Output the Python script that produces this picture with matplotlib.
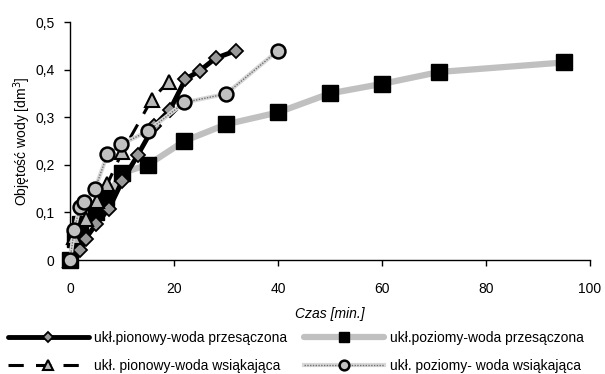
import matplotlib
matplotlib.use("Agg")
import matplotlib.pyplot as plt
from matplotlib.ticker import FuncFormatter

plt.rcParams['font.family'] = ['Liberation Sans', 'DejaVu Sans']
plt.rcParams['font.size'] = 10

# ukł. pionowy - woda przesączona
t_pion_prz = [0, 2, 3, 5, 7.5, 10, 13, 16.2, 19.2, 22.2, 25, 28, 32]
v_pion_prz = [0, 0.02, 0.045, 0.075, 0.108, 0.165, 0.22, 0.282, 0.315, 0.38, 0.398, 0.424, 0.44]

# ukł. poziomy - woda przesączona
t_poz_prz = [0, 1, 2, 5, 7, 10, 15, 22, 30, 40, 50, 60, 71, 95]
v_poz_prz = [0, 0.045, 0.075, 0.10, 0.13, 0.183, 0.20, 0.25, 0.285, 0.31, 0.35, 0.37, 0.395, 0.415]

# ukł. pionowy - woda wsiąkająca
t_pion_wsi = [0, 0.8, 3, 5.1, 7.2, 10, 15.7, 19]
v_pion_wsi = [0, 0.049, 0.087, 0.125, 0.16, 0.226, 0.337, 0.375]

# ukł. poziomy - woda wsiąkająca
t_poz_wsi = [0, 0.8, 1.9, 2.7, 4.8, 7.2, 9.9, 15, 22, 30, 40]
v_poz_wsi = [0, 0.0625, 0.112, 0.122, 0.149, 0.222, 0.243, 0.271, 0.331, 0.349, 0.44]

labels = ["ukł.pionowy-woda przesączona",
          "ukł.poziomy-woda przesączona",
          "ukł. pionowy-woda wsiąkająca",
          "ukł. poziomy- woda wsiąkająca"]

fig = plt.figure(figsize=(6.05, 3.74), dpi=100)
ax = fig.add_axes([70 / 605, 1 - 260 / 374, 520 / 605, 238 / 374])

l2, = ax.plot(t_poz_prz, v_poz_prz, color="#c0c0c0", lw=4.5, solid_capstyle="round",
              marker="s", ms=11, mfc="black", mec="black", clip_on=False, zorder=2)
l1, = ax.plot(t_pion_prz, v_pion_prz, color="black", lw=3.5, solid_capstyle="round",
              marker="D", ms=7, mfc="#999999", mec="black", mew=1.3, clip_on=False, zorder=3)
l3, = ax.plot(t_pion_wsi, v_pion_wsi, color="black", lw=2.2, ls=(0, (5, 4)),
              marker="^", ms=10, mfc="#b8b8b8", mec="black", mew=1.5, clip_on=False, zorder=4)
# hatched-looking thin line: light band with dark dots on top
l4a, = ax.plot(t_poz_wsi, v_poz_wsi, color="#d8d8d8", lw=3, clip_on=False, zorder=5)
l4b, = ax.plot(t_poz_wsi, v_poz_wsi, color="#707070", lw=1, ls=(0, (1, 1)),
               marker="o", ms=10, mfc="#c0c0c0", mec="black", mew=1.8, clip_on=False, zorder=5)

ax.set_xlim(0, 100)
ax.set_ylim(0, 0.5)
ax.set_xticks([0, 20, 40, 60, 80, 100])
ax.set_yticks([0, 0.1, 0.2, 0.3, 0.4, 0.5])
ax.yaxis.set_major_formatter(FuncFormatter(lambda v, p: "0" if v == 0 else f"{v:.1f}".replace(".", ",")))

for s in ["top", "right"]:
    ax.spines[s].set_visible(False)
for s in ["left", "bottom"]:
    ax.spines[s].set_linewidth(1)
ax.tick_params(axis="x", direction="out", length=4, width=1, pad=12)
ax.tick_params(axis="y", direction="out", length=4, width=1, pad=7)

ax.set_xlabel("Czas [min.]", style="italic", labelpad=8)
ax.set_ylabel("Objętość wody [dm$^3$]", labelpad=2)

fig.legend([l1, l3, l2, (l4a, l4b)],
           [labels[0], labels[2], labels[1], labels[3]],
           ncol=2, loc="upper left", bbox_to_anchor=(8 / 605, 1 - 331 / 374),
           frameon=False, handlelength=5.8, handletextpad=0.4, columnspacing=1.2,
           labelspacing=1.0, borderpad=0, borderaxespad=0, markerscale=0.7)

fig.savefig("out.png", dpi=100)
